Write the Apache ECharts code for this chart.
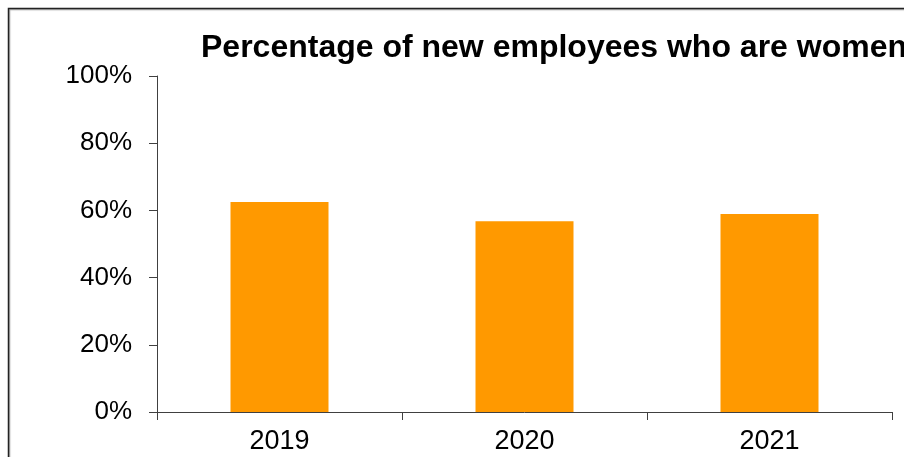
<!DOCTYPE html>
<html>
<head>
<meta charset="utf-8">
<script src="https://cdn.jsdelivr.net/npm/echarts@6/dist/echarts.min.js"></script>
<style>html,body{margin:0;padding:0;background:#fff;}#chart{width:904px;height:457px;}</style>
</head>
<body>
<div id="chart"></div>
<script>
const titleText = 'Percentage of new employees who are women';
const categories = ['2019', '2020', '2021'];
const values = [62.5, 56.8, 58.9];
const yTicks = { min: 0, max: 100, interval: 20 };

const chart = echarts.init(document.getElementById('chart'), null, { renderer: 'canvas' });
const font = 'Arial, "Liberation Sans", sans-serif';
chart.setOption({
  animation: false,
  backgroundColor: '#fff',
  graphic: [{
    type: 'rect', silent: true, z: -1,
    shape: { x: 8.5, y: 8.5, width: 1200, height: 1200 },
    style: { fill: 'none', stroke: '#222', lineWidth: 1.5, shadowColor: 'rgba(0,0,0,0.35)', shadowOffsetX: 1, shadowOffsetY: 1, shadowBlur: 1 }
  }],
  title: {
    text: titleText, left: 196, top: 27,
    textStyle: { fontFamily: font, fontWeight: 'bold', fontSize: 32, color: '#000' }
  },
  grid: { left: 157, right: 12, top: 76, bottom: 45, containLabel: false },
  xAxis: {
    type: 'category', data: categories,
    axisLine: { lineStyle: { color: '#404040', width: 1 } },
    axisTick: { show: true, length: 8, alignWithLabel: false, lineStyle: { color: '#404040' } },
    axisLabel: { fontFamily: font, fontSize: 27, color: '#000', margin: 16 },
    splitLine: { show: false }
  },
  yAxis: {
    type: 'value', min: yTicks.min, max: yTicks.max, interval: yTicks.interval,
    axisLine: { show: true, lineStyle: { color: '#404040', width: 1 } },
    axisTick: { show: true, length: 8, lineStyle: { color: '#404040' } },
    axisLabel: { fontFamily: font, fontSize: 26, color: '#000', margin: 25, formatter: '{value}%' },
    splitLine: { show: false }
  },
  series: [{
    type: 'bar', data: values, barWidth: '40%',
    itemStyle: { color: '#FF9900' }
  }]
});
</script>
</body>
</html>
